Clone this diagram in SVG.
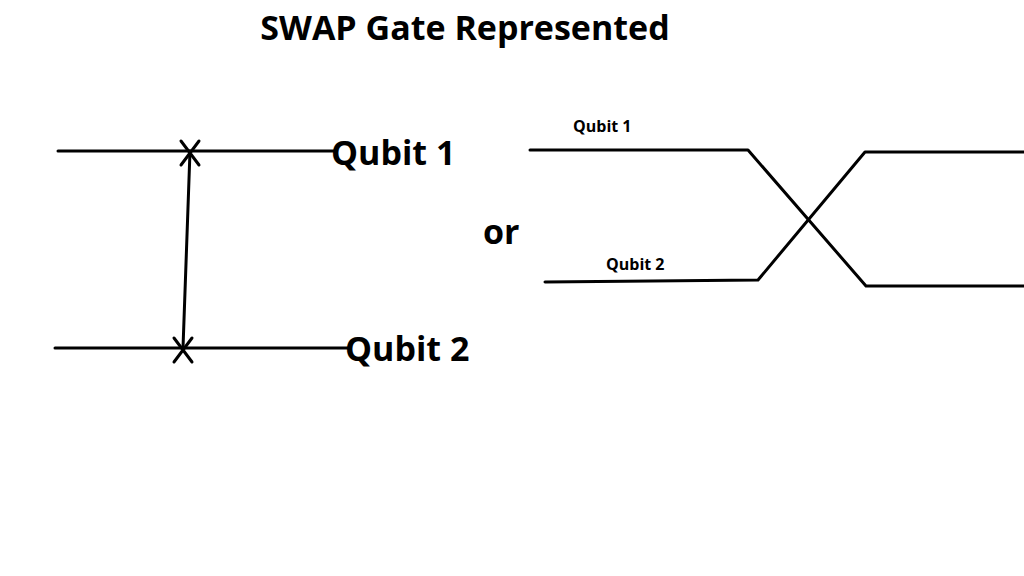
<svg xmlns="http://www.w3.org/2000/svg" width="1024" height="576" viewBox="0 0 1024 576">
<style>
.w{stroke:#000;stroke-width:3;fill:none;stroke-linecap:round;stroke-linejoin:round}
.t{font-family:"Open Sans","Noto Sans",sans-serif;font-weight:bold;fill:#000}
</style>
<rect width="1024" height="576" fill="#fff"/>
<text class="t" x="465" y="40" font-size="34" text-anchor="middle">SWAP Gate Represented</text>
<g id="connectors">
<path class="w" d="M58 151H335"/>
<path class="w" d="M55 348H350"/>
<path class="w" d="M190 151L183 348"/>
<path class="w" d="M530 150H748L866 286H1024"/>
<path class="w" d="M545 282L758 280L865 152H1024"/>
</g>
<g id="swap1"><path class="w" d="M181 141L199 165M199 141L181 165"/></g>
<g id="swap2"><path class="w" d="M174 338L192 362M192 338L174 362"/></g>
<g id="q1"><text class="t" x="331" y="165" font-size="34">Qubit 1</text></g>
<g id="q2"><text class="t" x="345" y="361" font-size="34">Qubit 2</text></g>
<g id="or"><text class="t" x="483" y="244" font-size="34">or</text></g>
<g id="q1b"><text class="t" x="573" y="132" font-size="16">Qubit 1</text></g>
<g id="q2b"><text class="t" x="606" y="270" font-size="16">Qubit 2</text></g>
</svg>
